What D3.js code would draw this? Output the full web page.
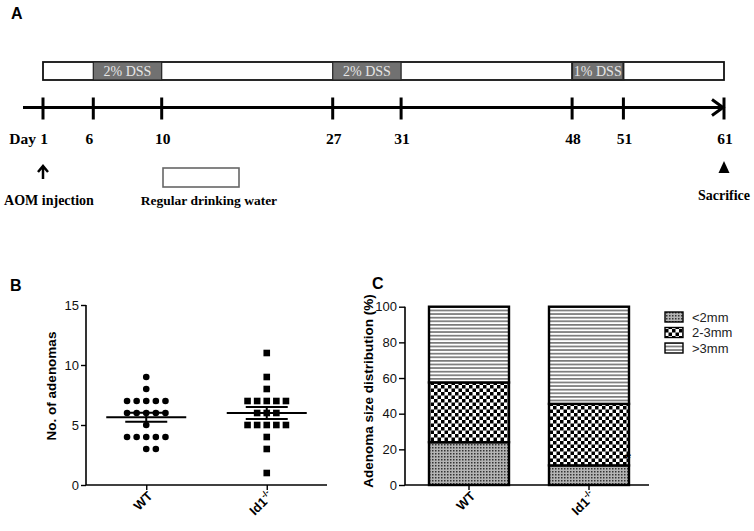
<!DOCTYPE html>
<html><head><meta charset="utf-8">
<script src="https://cdn.jsdelivr.net/npm/d3@7"></script>
<style>
html,body{margin:0;padding:0;background:#fff;}
svg{display:block;}
.serif{font-family:"Liberation Serif","Times New Roman",serif;}
.sans{font-family:"Liberation Sans",Arial,sans-serif;}
</style></head>
<body><svg id="c" width="754" height="531"></svg>
<script>
// ---------- DATA ----------
// Panel A: protocol timeline
const timelineDays = [1, 6, 10, 27, 31, 48, 51, 61];
const dssStarts = [6, 27, 48];
const dssEnds = [10, 31, 51];
const dssLabels = ["2% DSS", "2% DSS", "1% DSS"];
const eventDays = [1, 61];
const eventLabels = ["AOM injection", "Sacrifice"];
const waterLegendLabel = "Regular drinking water";

// Panel B: number of adenomas per mouse
const groups = ["WT", "Id1-/-"];
const wtCounts = [9, 8, 7, 7, 7, 7, 7, 6, 6, 6, 6, 6, 5, 4, 4, 4, 4, 4, 3, 3];
const id1Counts = [11, 9, 8, 7, 7, 7, 7, 7, 6, 6, 6, 5, 5, 5, 5, 5, 4, 3, 1];
const bTicks = [0, 5, 10, 15];

// Panel C: adenoma size distribution (%)
const sizeClasses = ["<2mm", "2-3mm", ">3mm"];
const wtSizePct = [24, 33.5, 42.5];
const id1SizePct = [11, 34.5, 54.5];
const cTicks = [0, 20, 40, 60, 80, 100];

// ---------- DRAW ----------
const svg = d3.select("#c");
svg.append("rect").attr("width", 754).attr("height", 531).attr("fill", "#fff");

// patterns
const defs = svg.append("defs");
const pSmall = defs.append("pattern").attr("id", "pSmall").attr("patternUnits", "userSpaceOnUse").attr("width", 3).attr("height", 3);
pSmall.append("rect").attr("width", 3).attr("height", 3).attr("fill", "#b4b4b4");
pSmall.append("rect").attr("width", 1.5).attr("height", 1.5).attr("fill", "#333");
const pCheck = defs.append("pattern").attr("id", "pCheck").attr("patternUnits", "userSpaceOnUse").attr("width", 7).attr("height", 7);
pCheck.append("rect").attr("width", 7).attr("height", 7).attr("fill", "#fff");
pCheck.append("rect").attr("width", 3.5).attr("height", 3.5).attr("fill", "#000");
pCheck.append("rect").attr("x", 3.5).attr("y", 3.5).attr("width", 3.5).attr("height", 3.5).attr("fill", "#000");
const pLines = defs.append("pattern").attr("id", "pLines").attr("patternUnits", "userSpaceOnUse").attr("width", 8).attr("height", 3.6);
pLines.append("rect").attr("width", 8).attr("height", 3.6).attr("fill", "#fff");
pLines.append("rect").attr("width", 8).attr("height", 1.7).attr("fill", "#7a7a7a");
const patternIds = ["url(#pSmall)", "url(#pCheck)", "url(#pLines)"];

// ===== Panel A =====
svg.append("text").attr("class", "sans").attr("x", 11).attr("y", 19)
  .attr("font-size", 16).attr("font-weight", "bold").text("A");

// DSS days are drawn stretched in the schematic
const dssWeight = 1.7;
function effDay(d) {
  let e = d;
  dssStarts.forEach((s, i) => { e += (dssWeight - 1) * Math.max(0, Math.min(d, dssEnds[i]) - s); });
  return e;
}
const xA = d3.scaleLinear().domain([effDay(d3.min(timelineDays)), effDay(d3.max(timelineDays))]).range([43, 724]);
const xd = d => xA(effDay(d));

const barTop = 62, barH = 18;
svg.append("rect").attr("x", xd(1)).attr("y", barTop).attr("width", xd(61) - xd(1)).attr("height", barH)
  .attr("fill", "#fff").attr("stroke", "#111").attr("stroke-width", 1.8);
dssStarts.forEach((s, i) => {
  svg.append("rect").attr("x", xd(s)).attr("y", barTop).attr("width", xd(dssEnds[i]) - xd(s)).attr("height", barH)
    .attr("fill", "#717171").attr("stroke", "#222").attr("stroke-width", i === 2 ? 2 : 1.2);
  svg.append("text").attr("class", "serif").attr("x", (xd(s) + xd(dssEnds[i])) / 2).attr("y", barTop + 14)
    .attr("text-anchor", "middle").attr("font-size", 14).attr("fill", "#e6e6e6").text(dssLabels[i]);
});

// timeline axis
const tlY = 107.5;
svg.append("line").attr("x1", 23).attr("x2", xd(61)).attr("y1", tlY).attr("y2", tlY)
  .attr("stroke", "#000").attr("stroke-width", 3);
svg.append("path").attr("d", `M${xd(61) - 12},${tlY - 8} L${xd(61) - 1},${tlY} L${xd(61) - 12},${tlY + 8}`)
  .attr("fill", "none").attr("stroke", "#000").attr("stroke-width", 3);
timelineDays.forEach(d => {
  svg.append("line").attr("x1", xd(d)).attr("x2", xd(d)).attr("y1", tlY - 10).attr("y2", tlY + 12)
    .attr("stroke", "#000").attr("stroke-width", 3);
  svg.append("text").attr("class", "serif").attr("x", xd(d) + (d === 6 ? -4 : 1)).attr("y", 143.5)
    .attr("text-anchor", "middle").attr("font-size", 15.5).attr("font-weight", "bold").text(d);
});
svg.append("text").attr("class", "serif").attr("x", xd(1) - 7).attr("y", 143.5)
  .attr("text-anchor", "end").attr("font-size", 15.5).attr("font-weight", "bold").text("Day");

// events
svg.append("path").attr("d", `M${xd(1)},${166} L${xd(1)},${179} M${xd(1) - 5},${172} L${xd(1)},${166} L${xd(1) + 5},${172}`)
  .attr("fill", "none").attr("stroke", "#000").attr("stroke-width", 2.5);
svg.append("path").attr("d", `M${xd(61)},${161} L${xd(61) + 5.5},${173} L${xd(61) - 5.5},${173} Z`).attr("fill", "#000");
svg.append("text").attr("class", "serif").attr("x", 49).attr("y", 205).attr("text-anchor", "middle")
  .attr("font-size", 14).attr("font-weight", "bold").text(eventLabels[0]);
svg.append("text").attr("class", "serif").attr("x", xd(61)).attr("y", 199.5).attr("text-anchor", "middle")
  .attr("font-size", 14).attr("font-weight", "bold").text(eventLabels[1]);

// water legend
svg.append("rect").attr("x", 163).attr("y", 168).attr("width", 76).attr("height", 19)
  .attr("fill", "#fff").attr("stroke", "#666").attr("stroke-width", 1.6);
svg.append("text").attr("class", "serif").attr("x", 209).attr("y", 205).attr("text-anchor", "middle")
  .attr("font-size", 13.5).attr("font-weight", "bold").text(waterLegendLabel);

// ===== Panel B =====
svg.append("text").attr("class", "sans").attr("x", 10).attr("y", 291)
  .attr("font-size", 16).attr("font-weight", "bold").text("B");

const yB = d3.scaleLinear().domain([0, 15]).range([485, 305]);
const xB = d3.scalePoint().domain(groups).range([86, 327]).padding(0.5);

const gBy = svg.append("g").attr("class", "sans").attr("transform", "translate(86,0)")
  .call(d3.axisLeft(yB).tickValues(bTicks).tickSize(5).tickPadding(2));
const gBx = svg.append("g").attr("transform", "translate(0,485)")
  .call(d3.axisBottom(xB).tickSize(5).tickFormat(""));
[gBy, gBx].forEach(g => {
  g.select(".domain").attr("stroke", "#000").attr("stroke-width", 1.6);
  g.selectAll(".tick line").attr("stroke", "#000").attr("stroke-width", 1.4);
});
gBx.select(".domain").attr("d", "M86,0H327");
gBy.select(".domain").attr("d", "M0,305V485");
gBy.selectAll(".tick text").attr("font-size", 13).attr("fill", "#111");

svg.append("text").attr("class", "sans").attr("transform", `translate(56,386) rotate(-90)`)
  .attr("text-anchor", "middle").attr("font-size", 13.5).attr("font-weight", "bold").text("No. of adenomas");

function groupLabel(x, y, g) {
  const t = svg.append("text").attr("class", "sans").attr("transform", `translate(${x},${y}) rotate(-45)`)
    .attr("text-anchor", "end").attr("font-size", 13).attr("font-weight", "bold");
  if (g === "WT") t.text("WT");
  else {
    t.append("tspan").text("Id1");
    t.append("tspan").attr("font-size", 8.5).attr("dy", -5.5).text("-/-");
  }
}
groups.forEach(g => groupLabel(xB(g) + 7, 497, g));

// scatter points arranged per value row
const spacingB = 9.6;
function drawScatter(values, cx, shape) {
  const rows = d3.group(values, v => v);
  rows.forEach((arr, v) => {
    const n = arr.length;
    const off = Math.floor((n - 1) / 2);
    arr.forEach((_, k) => {
      const x = cx + (k - off) * spacingB;
      const y = yB(v);
      if (shape === "circle") svg.append("circle").attr("cx", x).attr("cy", y).attr("r", 3.3).attr("fill", "#000");
      else svg.append("rect").attr("x", x - 3.3).attr("y", y - 3.3).attr("width", 6.6).attr("height", 6.6).attr("fill", "#000");
    });
  });
  const m = d3.mean(values);
  const sem = d3.deviation(values) / Math.sqrt(values.length);
  svg.append("line").attr("x1", cx - 40).attr("x2", cx + 40).attr("y1", yB(m)).attr("y2", yB(m)).attr("stroke", "#000").attr("stroke-width", 2);
  [m + sem, m - sem].forEach(v => svg.append("line").attr("x1", cx - 21).attr("x2", cx + 21).attr("y1", yB(v)).attr("y2", yB(v)).attr("stroke", "#000").attr("stroke-width", 2));
  svg.append("line").attr("x1", cx).attr("x2", cx).attr("y1", yB(m + sem)).attr("y2", yB(m - sem)).attr("stroke", "#000").attr("stroke-width", 2);
}
drawScatter(wtCounts, xB("WT"), "circle");
drawScatter(id1Counts, xB("Id1-/-"), "square");

// ===== Panel C =====
svg.append("text").attr("class", "sans").attr("x", 372).attr("y", 289)
  .attr("font-size", 16).attr("font-weight", "bold").text("C");

const yC = d3.scaleLinear().domain([0, 100]).range([485, 306.7]);
const xC = d3.scaleBand().domain(groups).range([409, 649]).paddingInner(1 / 3).paddingOuter(1 / 6);

const tableC = groups.map((g, i) => {
  const vals = i === 0 ? wtSizePct : id1SizePct;
  const o = { group: g };
  sizeClasses.forEach((s, j) => o[s] = vals[j]);
  return o;
});
const stacked = d3.stack().keys(sizeClasses)(tableC);
stacked.forEach((layer, li) => {
  layer.forEach(d => {
    svg.append("rect").attr("x", xC(d.data.group)).attr("y", yC(d[1]))
      .attr("width", xC.bandwidth()).attr("height", yC(d[0]) - yC(d[1]))
      .attr("fill", patternIds[li]).attr("stroke", "#000").attr("stroke-width", 2.4);
  });
});

const gCy = svg.append("g").attr("class", "sans").attr("transform", "translate(405,0)")
  .call(d3.axisLeft(yC).tickValues(cTicks).tickSize(6).tickPadding(2));
const gCx = svg.append("g").attr("transform", "translate(0,485)")
  .call(d3.axisBottom(xC).tickSize(5).tickFormat(""));
[gCy, gCx].forEach(g => {
  g.select(".domain").attr("stroke", "#000").attr("stroke-width", 1.6);
  g.selectAll(".tick line").attr("stroke", "#000").attr("stroke-width", 1.4);
});
gCx.select(".domain").attr("d", "M405,0H649");
gCy.select(".domain").attr("d", "M0,306.7V485");
gCy.selectAll(".tick text").attr("font-size", 13).attr("fill", "#111");

svg.append("text").attr("class", "sans").attr("transform", `translate(373,391) rotate(-90)`)
  .attr("text-anchor", "middle").attr("font-size", 13.5).attr("font-weight", "bold").text("Adenoma size distribution (%)");

groups.forEach(g => groupLabel(xC(g) + xC.bandwidth() / 2 + 7, 497, g));

// significance mark on Id1 bar
svg.append("text").attr("class", "sans").attr("x", xC("Id1-/-") + xC.bandwidth() - 1).attr("y", 463)
  .attr("text-anchor", "middle").attr("font-size", 15).attr("font-weight", "bold").text("*");

// legend
sizeClasses.forEach((s, i) => {
  const y = 317 + i * 15.5;
  svg.append("rect").attr("x", 665).attr("y", y - 5).attr("width", 18).attr("height", 10)
    .attr("fill", patternIds[i]).attr("stroke", "#000").attr("stroke-width", 1.4);
  svg.append("text").attr("class", "sans").attr("x", 692).attr("y", y + 4.5)
    .attr("font-size", 13).attr("fill", "#222").text(s);
});
</script></body></html>
